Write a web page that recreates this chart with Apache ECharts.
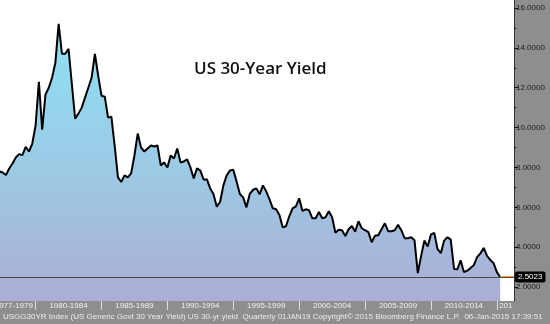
<!DOCTYPE html>
<html>
<head>
<meta charset="utf-8">
<script src="https://cdn.jsdelivr.net/npm/echarts@6/dist/echarts.min.js"></script>
<style>
  html, body { margin: 0; padding: 0; }
  #chart { width: 550px; height: 324px; }
</style>
</head>
<body>
<div id="chart"></div>
<script>
// quarterly 30y yield, first point = 1977 Q1 (plotted at quarter end)
const startYear = 1977
const yields = [
  7.80, 7.75, 7.62, 7.95,   // 1977
  8.20, 8.50, 8.67, 8.62,   // 1978
  9.03, 8.80, 9.20, 10.10,  // 1979
  12.30, 9.90, 11.65, 12.00,
  12.50, 13.25, 15.20, 13.70,
  13.70, 13.95, 12.20, 10.45,
  10.70, 11.00, 11.50, 12.00,
  12.50, 13.70, 12.60, 11.60,
  11.55, 10.50, 10.55, 9.10,  // 1985
  7.50, 7.27, 7.60, 7.50,
  7.70, 8.60, 9.70, 9.00,
  8.80, 8.95, 9.10, 9.05,
  9.10, 8.10, 8.25, 8.00,
  8.60, 8.45, 8.95, 8.25,   // 1990
  8.30, 8.40, 8.00, 7.45,
  7.96, 7.84, 7.40, 7.40,
  6.95, 6.65, 6.03, 6.28,
  7.10, 7.60, 7.85, 7.88,
  7.30, 6.67, 6.50, 6.00,   // 1995
  6.67, 6.88, 6.95, 6.65,
  7.10, 6.80, 6.40, 5.95,
  5.90, 5.62, 5.00, 5.05,
  5.55, 5.95, 6.05, 6.45,
  5.82, 5.90, 5.85, 5.45,   // 2000
  5.45, 5.76, 5.45, 5.50,
  5.80, 5.50, 4.72, 4.87,
  4.85, 4.56, 4.90, 5.06,
  4.78, 5.30, 4.95, 4.85,
  4.76, 4.25, 4.57, 4.60,   // 2005
  4.90, 5.20, 4.80, 4.80,
  4.85, 5.12, 4.85, 4.45,
  4.45, 4.50, 4.35, 2.70,
  3.55, 4.33, 4.03, 4.64,
  4.72, 3.90, 3.70, 4.33,   // 2010
  4.50, 4.38, 2.91, 2.89,
  3.34, 2.75, 2.82, 2.95,
  3.10, 3.50, 3.69, 3.96,
  3.56, 3.36, 3.20, 2.75,
  2.5023                    // 2015 Q1
]

// x axis bins (5-year buckets) and where their labels sit
const binStarts = [1980, 1985, 1990, 1995, 2000, 2005, 2010, 2015]
const binLabels = ['1977-1979', '1980-1984', '1985-1989', '1990-1994', '1995-1999', '2000-2004', '2005-2009', '2010-2014', '201']
const binCenters = [1978.35, 1982.5, 1987.5, 1992.5, 1997.5, 2002.5, 2007.5, 2012.5, 2015.68]

const yLabels = [2, 4, 6, 8, 10, 12, 14, 16]
const yMinor = [3, 5, 7, 9, 11, 13, 15]

const xMin = 1977.3
const xMax = 2016.3

const points = yields.map((v, i) => [startYear + 0.25 * (i + 1), v])
const last = points[points.length - 1]

const chart = echarts.init(document.getElementById('chart'))

const font = 'Liberation Sans'

chart.setOption({
  animation: false,
  backgroundColor: '#8e8e8e',
  title: {
    text: 'US 30-Year Yield',
    left: 189,
    top: 56,
    textStyle: {
      fontFamily: 'Open Sans',
      fontWeight: 600,
      fontSize: 17,
      color: '#111'
    }
  },
  grid: {
    left: 0,
    right: 36,
    top: 0,
    bottom: 23,
    outerBoundsMode: 'none',
    containLabel: false,
    show: true,
    backgroundColor: '#fff',
    borderWidth: 0
  },
  xAxis: {
    type: 'value',
    min: xMin,
    max: xMax,
    axisLine: { show: false },
    splitLine: { show: false },
    axisTick: {
      customValues: binStarts,
      length: 9,
      lineStyle: { color: '#e0e0e0', width: 1 }
    },
    axisLabel: {
      customValues: binCenters,
      margin: 1,
      fontFamily: font,
      fontSize: 8,
      color: '#f2f2f2',
      formatter: (v) => {
        const k = binCenters.findIndex(c => Math.abs(c - v) < 0.01)
        return k >= 0 ? binLabels[k] : ''
      }
    }
  },
  yAxis: [{
    type: 'value',
    position: 'right',
    min: 1.3,
    max: 16.4,
    axisLine: { show: true, lineStyle: { color: '#333', width: 1 } },
    splitLine: { show: false },
    axisTick: {
      customValues: yLabels,
      length: 4,
      lineStyle: { color: '#111' }
    },
    axisLabel: {
      customValues: yLabels,
      margin: 2,
      fontFamily: font,
      fontSize: 8,
      color: '#1a1a1a',
      formatter: (v) => v.toFixed(4)
    }
  }, {
    type: 'value',
    position: 'right',
    min: 1.3,
    max: 16.4,
    axisLine: { show: false },
    splitLine: { show: false },
    axisTick: {
      customValues: yMinor,
      length: 2,
      lineStyle: { color: '#111' }
    },
    axisLabel: { show: false }
  }],
  series: [{
    name: 'US 30-yr yield',
    type: 'line',
    data: points,
    symbol: 'none',
    lineStyle: { color: '#000', width: 2 },
    areaStyle: {
      origin: 'start',
      opacity: 1,
      color: new echarts.graphic.LinearGradient(0, 0, 0, 1, [
        { offset: 0, color: '#8ce2f4' },
        { offset: 0.5, color: '#9ccbe6' },
        { offset: 1, color: '#abaed7' }
      ])
    },
    markLine: {
      silent: true,
      symbol: ['none', 'none'],
      lineStyle: { color: '#4a4a4a', width: 1, type: 'solid' },
      label: {
        show: true,
        position: 'end',
        distance: 1,
        formatter: () => last[1].toFixed(4),
        backgroundColor: '#000',
        color: '#fff',
        fontFamily: font,
        fontSize: 8,
        padding: [2, 3, 1, 3],
        borderRadius: 2
      },
      data: [{ yAxis: last[1] }]
    },
    z: 2
  }, {
    name: 'last',
    type: 'line',
    data: [last, [xMax, last[1]]],
    symbol: 'none',
    lineStyle: { color: '#f5a425', width: 2 },
    z: 3
  }],
  graphic: [{
    type: 'text',
    left: 3,
    top: 313,
    style: {
      text: 'USGG30YR Index (US Generic Govt 30 Year Yield) US 30-yr yield  Quarterly 01JAN19 Copyright\u00a9 2015 Bloomberg Finance L.P.  06-Jan-2015 17:39:51',
      fontFamily: font,
      fontSize: 8,
      fill: '#ececec'
    }
  }]
})
</script>
</body>
</html>
